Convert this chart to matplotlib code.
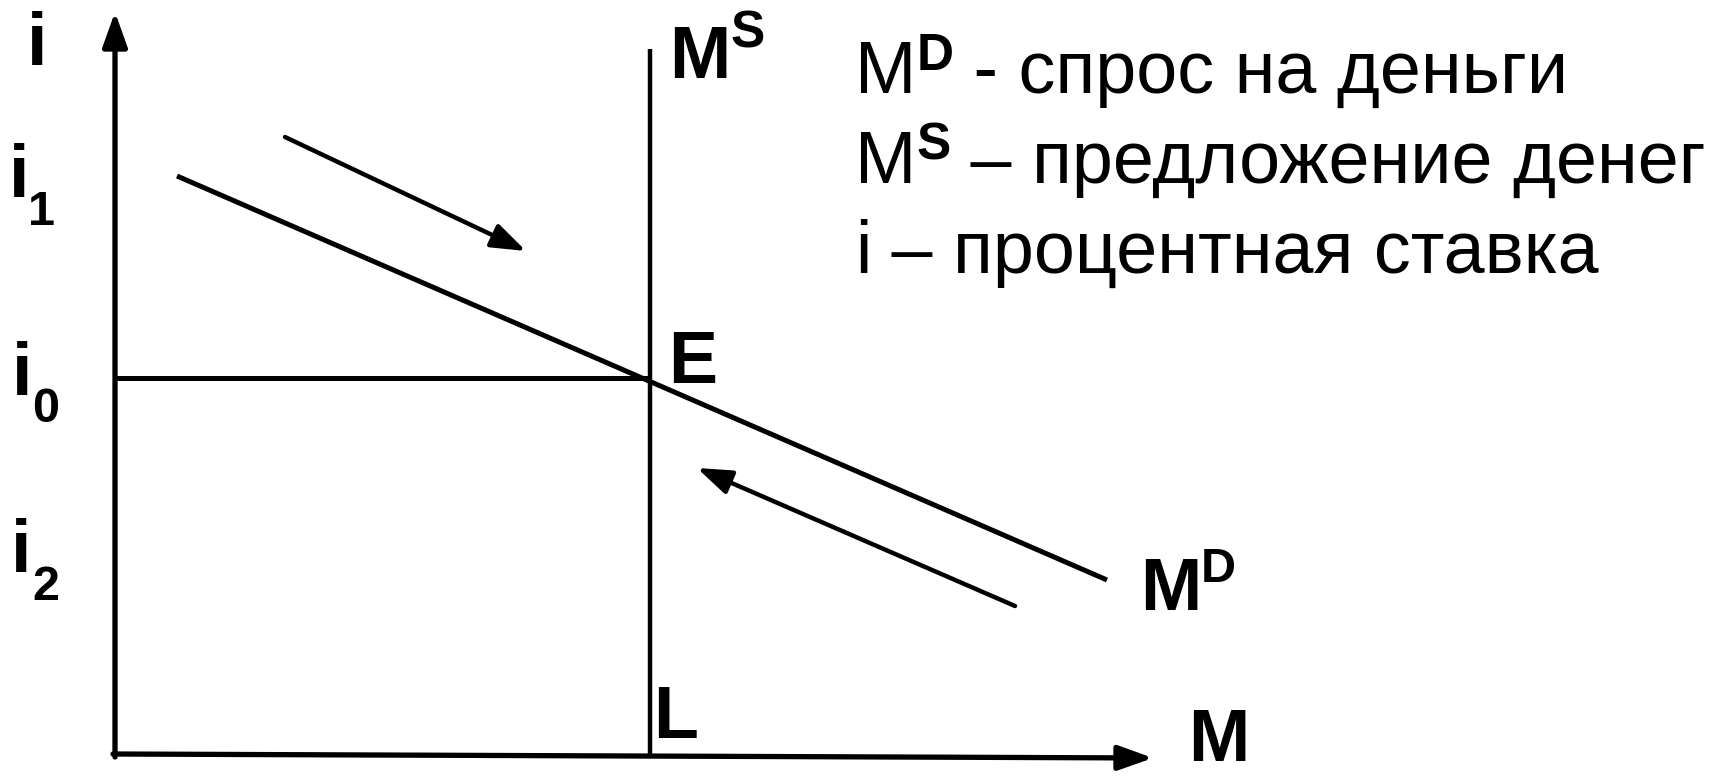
import matplotlib.pyplot as plt

plt.rcParams['font.family'] = ['Liberation Sans', 'DejaVu Sans']

# Точки кривых (начало координат - пересечение осей)
md_x = [62, 992]          # кривая спроса на деньги M^D
md_y = [579, 175]
ms_x = [535, 535]         # вертикальная кривая предложения M^S
ms_y = [0, 706]
i0_x = [0, 535]           # горизонталь равновесной ставки i0
i0_y = [377, 377]

# Оси (конец стрелки)
y_axis = [(0, -2), (0, 743)]
x_axis = [(-2, 1), (1038, -3)]

# Стрелки движения к равновесию: (начало, конец)
arrow_down = [(170, 618), (411, 504)]
arrow_up = [(900, 149), (582, 287)]

legend_lines = [('M', 'D', ' - спрос на деньги'),
                ('M', 'S', ' – предложение денег'),
                ('i', '', ' – процентная ставка')]

fig = plt.figure(figsize=(17.13, 7.76), dpi=100)
ax = fig.add_axes([0, 0, 1, 1])
ax.set_xlim(-115, 1598)
ax.set_ylim(-21, 755)
ax.axis('off')

lw = 3.6
head = '-|>,head_length=21,head_width=7.5'


def arrow(start, end, width):
    ax.annotate('', xy=end, xytext=start,
                arrowprops=dict(arrowstyle=head, lw=width, color='black',
                                shrinkA=0, shrinkB=0, mutation_scale=1))


# Оси
arrow(y_axis[0], y_axis[1], 3.8)
arrow(x_axis[0], x_axis[1], 3.8)

# Кривые
ax.plot(md_x, md_y, color='black', lw=lw, solid_capstyle='butt')
ax.plot(ms_x, ms_y, color='black', lw=3.2, solid_capstyle='butt')
ax.plot(i0_x, i0_y, color='black', lw=lw, solid_capstyle='butt')

arrow(arrow_down[0], arrow_down[1], 3.2)
arrow(arrow_up[0], arrow_up[1], 3.2)

big = 53
small = 35
sup = 37

# Подписи оси ставки
ax.text(-78, 690, 'i', fontsize=big, fontweight='bold', ha='center', va='baseline')
ax.text(-96, 558, 'i', fontsize=big, fontweight='bold', ha='center', va='baseline')
ax.text(-74, 530, '1', fontsize=small, fontweight='bold', ha='center', va='baseline')
ax.text(-93, 360, 'i', fontsize=big, fontweight='bold', ha='center', va='baseline')
ax.text(-69, 333, '0', fontsize=small, fontweight='bold', ha='center', va='baseline')
ax.text(-93.5, 183, 'i', fontsize=big, fontweight='bold', ha='center', va='baseline')
ax.text(-69.5, 155, '2', fontsize=small, fontweight='bold', ha='center', va='baseline')

# M^S
ms_lab = ax.text(554, 677, 'M', fontsize=big, fontweight='bold', va='baseline')
ax.annotate('S', xy=(1, 708), xycoords=(ms_lab, 'data'), fontsize=sup,
            fontweight='bold', va='baseline')

# Точки E и L, ось M
ax.text(553, 372, 'E', fontsize=big, fontweight='bold', va='baseline')
ax.text(538, 17, 'L', fontsize=big, fontweight='bold', va='baseline')
ax.text(1073, -6, 'M', fontsize=big, fontweight='bold', va='baseline')

# M^D
md_lab = ax.text(1025, 145, 'M', fontsize=big, fontweight='bold', va='baseline')
ax.annotate('D', xy=(1, 173), xycoords=(md_lab, 'data'), fontsize=small,
            fontweight='bold', va='baseline')

# Пояснения справа
for k, (base, s, rest) in enumerate(legend_lines):
    y = 662 - 90 * k
    t = ax.text(740, y, base, fontsize=53, va='baseline')
    if s:
        t = ax.annotate(s, xy=(1, y + 23), xycoords=(t, 'data'), fontsize=sup,
                        fontweight='bold', va='baseline')
    ax.annotate(rest, xy=(1, y), xycoords=(t, 'data'), fontsize=53, va='baseline')

plt.savefig('out.png', dpi=100)
